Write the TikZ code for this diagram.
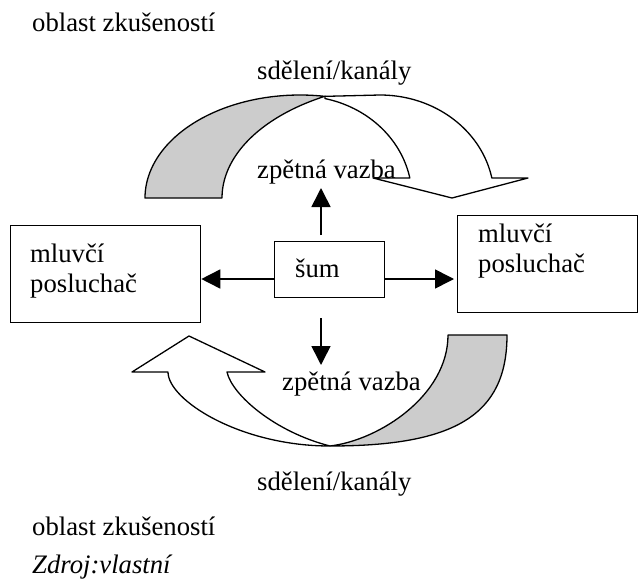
\documentclass[tikz,border=0pt]{standalone}
\usepackage{fontspec}
\setmainfont{Liberation Serif}
\usetikzlibrary{arrows.meta}
\definecolor{bandgray}{RGB}{204,204,204}
\newcommand{\fs}{\fontsize{26.7}{30}\selectfont}
\begin{document}
\begin{tikzpicture}[x=1pt,y=-1pt,
  txt/.style={anchor=base west, inner sep=0pt, font=\fs},
  box/.style={draw, line width=1.3pt, anchor=north west, inner sep=0pt},
  band/.style={draw=black, line width=1.3pt, line join=round},
  arr/.style={-{Triangle[length=19pt,width=19pt]}, line width=1.6pt}]
\useasboundingbox (0,0) rectangle (639,586);

% top curved arrow
\filldraw[band, fill=bandgray]
  plot[domain=180:279.28, samples=50, variable=\t] ({300+155*cos(\t)},{198+103*sin(\t)})
  -- plot[domain=241.33:180, samples=50, variable=\t] ({420+198*cos(\t)},{198+116*sin(\t)})
  -- cycle;
\filldraw[band, fill=white]
  (325,96.35) -- (380,95)
  -- plot[domain=270:348.8, samples=50, variable=\t] ({380+114*cos(\t)},{198+103*sin(\t)})
  -- (528,178) -- (452,198) -- (373,178)
  -- plot[domain=348.7:282.9, samples=50, variable=\t] ({300+112*cos(\t)},{198+102*sin(\t)})
  -- cycle;

% bottom curved arrow
\filldraw[band, fill=bandgray]
  (507,335) .. controls (507,415) and (455,446) .. (330,446)
  .. controls (380,440) and (448,395) .. (448,335) -- cycle;
\filldraw[band, fill=white]
  (330,446) .. controls (240,446) and (168,400) .. (168,372)
  -- (132,372) -- (189,336) -- (265,372) -- (227,372)
  .. controls (232,395) and (275,432) .. (330,446) -- cycle;

% boxes
\node[box, minimum width=190pt, minimum height=97pt] (lb) at (10,225) {};
\node[box, minimum width=180pt, minimum height=97pt] (rb) at (457,215) {};
\node[box, minimum width=110pt, minimum height=56pt] (sum) at (274,241) {};

% texts
\node[txt] (t1) at (32,32) {oblast zkušeností};
\node[txt] (t2) at (257,79) {sdělení/kanály};
\node[txt] (t3) at (257,178) {zpětná vazba};
\node[txt] (t4) at (30,262) {mluvčí};
\node[txt] (t5) at (30,292) {posluchač};
\node[txt] (t6) at (478,242) {mluvčí};
\node[txt] (t7) at (478,272) {posluchač};
\node[txt] (t8) at (295,277) {šum};
\node[txt] (t9) at (282,390) {zpětná vazba};
\node[txt] (t10) at (257,490) {sdělení/kanály};
\node[txt] (t11) at (32,535) {oblast zkušeností};
\node[txt, font=\fs\itshape] (t12) at (32,573) {Zdroj:vlastní};

% small arrows
\coordinate (ay) at (0,279);
\coordinate (u0) at (321,235);
\coordinate (u1) at (321,188);
\coordinate (d0) at (321,318);
\coordinate (d1) at (321,365);
\draw[arr] (sum.west |- ay) -- (lb.east |- ay);
\draw[arr, shorten >=3pt] (sum.east |- ay) -- (rb.west |- ay);
\draw[arr] (u0) -- (u1);
\draw[arr] (d0) -- (d1);
\end{tikzpicture}
\end{document}
